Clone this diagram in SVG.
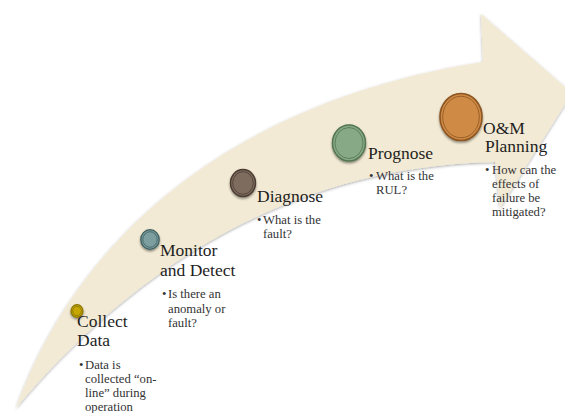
<svg xmlns="http://www.w3.org/2000/svg" width="565" height="413" viewBox="0 0 565 413">
<defs>
<filter id="sh" x="-10%" y="-10%" width="120%" height="130%">
<feDropShadow dx="0" dy="1" stdDeviation="1.5" flood-color="#000" flood-opacity="0.35"/>
</filter>
<filter id="csh" x="-40%" y="-40%" width="180%" height="180%">
<feDropShadow dx="0" dy="1.5" stdDeviation="1.2" flood-color="#000" flood-opacity="0.45"/>
</filter>
</defs>
<style>
.title{font-family:"Liberation Serif","Times New Roman",serif;font-size:17.5px;fill:#1e1e1e}
.bul{font-family:"Liberation Serif","Times New Roman",serif;font-size:12.7px;fill:#333}
.ring{fill:none;stroke-width:0.8}
</style>
<rect width="565" height="413" fill="#ffffff"/>
<g id="arrow">
<path d="M16,408 C80,230 240,100 483,62 L481,14 L572,93 L500,208 L495,162 C340,165 170,225 16,408 Z" fill="#f2ead4" filter="url(#sh)"/>
</g>
<g id="connectors"></g>
<g id="collect">
<ellipse cx="77" cy="311" rx="6" ry="6.3" fill="#c6a700" stroke="#8c7600" stroke-width="1.2" filter="url(#csh)"/>
<ellipse class="ring" cx="77" cy="311" rx="4.3" ry="4.6" stroke="#8c7600"/>
<text class="title" x="77" y="327">Collect</text>
<text class="title" x="77" y="346">Data</text>
<text class="bul" x="79" y="369">•</text>
<text class="bul" x="85" y="369">Data is</text>
<text class="bul" x="85" y="383">collected “on-</text>
<text class="bul" x="85" y="397">line” during</text>
<text class="bul" x="85" y="411">operation</text>
</g>
<g id="monitor">
<ellipse cx="150" cy="239.5" rx="9.2" ry="9.8" fill="#7b9e9e" stroke="#3f5f5f" stroke-width="1.3" filter="url(#csh)"/>
<ellipse class="ring" cx="150" cy="239.5" rx="7.2" ry="7.8" stroke="#3f5f5f"/>
<text class="title" x="160" y="256">Monitor</text>
<text class="title" x="160" y="276">and Detect</text>
<text class="bul" x="162" y="298">•</text>
<text class="bul" x="168" y="298">Is there an</text>
<text class="bul" x="168" y="312.5">anomaly or</text>
<text class="bul" x="168" y="327">fault?</text>
</g>
<g id="diagnose">
<ellipse cx="243" cy="183" rx="12.5" ry="13.5" fill="#7e6d5f" stroke="#4a3a30" stroke-width="1.4" filter="url(#csh)"/>
<ellipse class="ring" cx="243" cy="183" rx="10.3" ry="11.3" stroke="#4a3a30"/>
<text class="title" x="257" y="201.5">Diagnose</text>
<text class="bul" x="257" y="224">•</text>
<text class="bul" x="263" y="224">What is the</text>
<text class="bul" x="263" y="238">fault?</text>
</g>
<g id="prognose">
<ellipse cx="349" cy="143" rx="16.5" ry="18" fill="#88a985" stroke="#52744f" stroke-width="1.5" filter="url(#csh)"/>
<ellipse class="ring" cx="349" cy="143" rx="14" ry="15.5" stroke="#52744f"/>
<text class="title" x="368" y="158.5">Prognose</text>
<text class="bul" x="369" y="180">•</text>
<text class="bul" x="376" y="180">What is the</text>
<text class="bul" x="376" y="194">RUL?</text>
</g>
<g id="planning">
<ellipse cx="461" cy="117" rx="21" ry="23.5" fill="#cf8b45" stroke="#8c5420" stroke-width="1.6" filter="url(#csh)"/>
<ellipse class="ring" cx="461" cy="117" rx="18.3" ry="20.8" stroke="#8c5420"/>
<text class="title" x="483" y="133.5">O&amp;M</text>
<text class="title" x="485" y="152">Planning</text>
<text class="bul" x="485" y="174">•</text>
<text class="bul" x="492" y="174">How can the</text>
<text class="bul" x="492" y="188.3">effects of</text>
<text class="bul" x="492" y="202.3">failure be</text>
<text class="bul" x="492" y="216">mitigated?</text>
</g>
</svg>
